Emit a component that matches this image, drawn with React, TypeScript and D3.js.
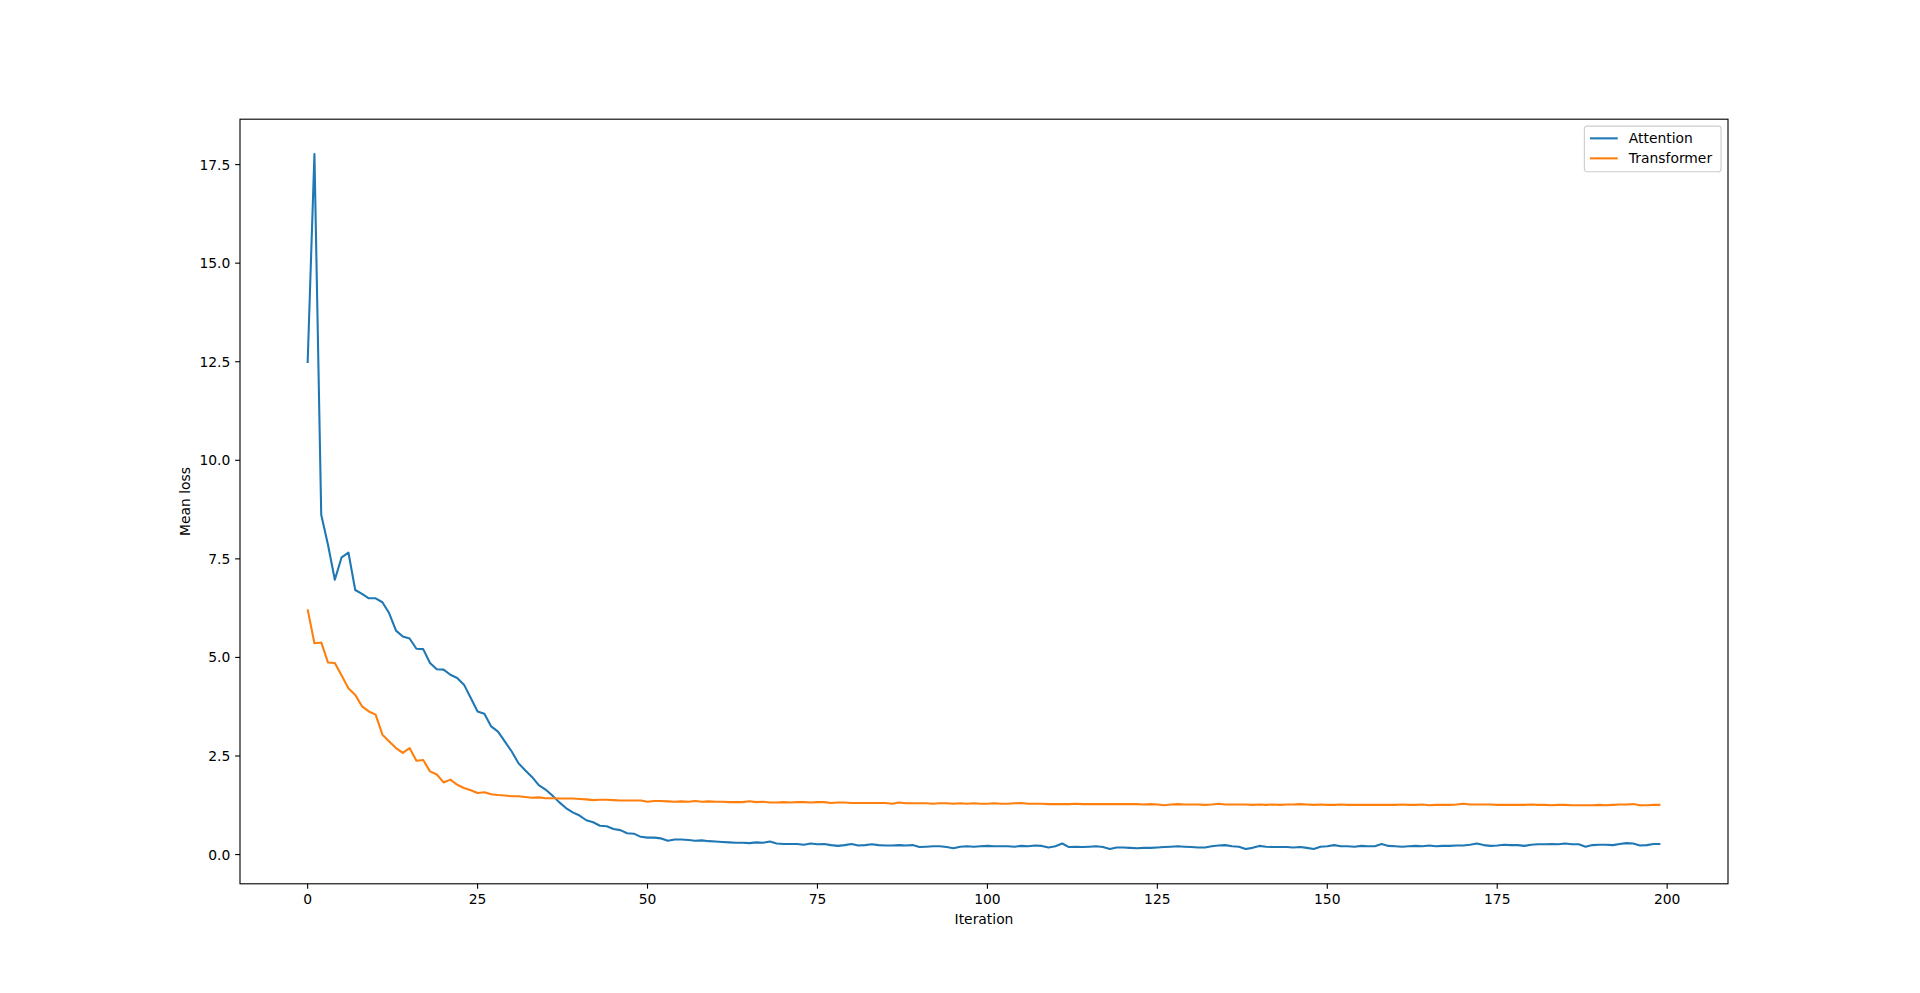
import * as d3 from 'd3';

// ── Data ──────────────────────────────────────────────────────────────────────
const ATTENTION_LOSS = [
  12.47, 17.77, 8.62, 7.85, 6.97, 7.54, 7.66, 6.71, 6.61, 6.50,
  6.50, 6.40, 6.12, 5.68, 5.53, 5.48, 5.22, 5.21, 4.86, 4.70,
  4.69, 4.56, 4.48, 4.31, 3.97, 3.63, 3.57, 3.25, 3.12, 2.87,
  2.62, 2.32, 2.14, 1.97, 1.76, 1.65, 1.50, 1.33, 1.18, 1.07,
  0.99, 0.87, 0.82, 0.73, 0.72, 0.65, 0.62, 0.54, 0.53, 0.45,
  0.43, 0.43, 0.41, 0.35, 0.38, 0.38, 0.37, 0.35, 0.36, 0.34,
  0.33, 0.32, 0.31, 0.30, 0.30, 0.29, 0.31, 0.30, 0.33, 0.28,
  0.27, 0.27, 0.27, 0.25, 0.28, 0.26, 0.27, 0.24, 0.22, 0.24,
  0.27, 0.23, 0.24, 0.26, 0.24, 0.23, 0.23, 0.24, 0.23, 0.24,
  0.19, 0.20, 0.21, 0.21, 0.19, 0.16, 0.20, 0.21, 0.20, 0.21,
  0.22, 0.21, 0.21, 0.21, 0.20, 0.22, 0.21, 0.23, 0.22, 0.18,
  0.21, 0.28, 0.19, 0.20, 0.19, 0.20, 0.21, 0.19, 0.14, 0.18,
  0.18, 0.17, 0.16, 0.17, 0.17, 0.18, 0.19, 0.20, 0.21, 0.20,
  0.19, 0.18, 0.18, 0.21, 0.23, 0.24, 0.21, 0.20, 0.14, 0.17,
  0.22, 0.20, 0.19, 0.19, 0.19, 0.18, 0.19, 0.17, 0.14, 0.20,
  0.21, 0.24, 0.21, 0.21, 0.20, 0.22, 0.21, 0.21, 0.27, 0.22,
  0.21, 0.20, 0.21, 0.22, 0.21, 0.23, 0.21, 0.22, 0.22, 0.23,
  0.23, 0.25, 0.28, 0.24, 0.22, 0.23, 0.25, 0.24, 0.24, 0.22,
  0.25, 0.26, 0.26, 0.27, 0.26, 0.28, 0.26, 0.26, 0.20, 0.24,
  0.25, 0.25, 0.24, 0.27, 0.29, 0.28, 0.23, 0.24, 0.27, 0.27,
];

const TRANSFORMER_LOSS = [
  6.22, 5.36, 5.38, 4.87, 4.86, 4.54, 4.22, 4.05, 3.76, 3.63,
  3.55, 3.04, 2.87, 2.70, 2.58, 2.70, 2.38, 2.40, 2.11, 2.03,
  1.83, 1.90, 1.77, 1.69, 1.63, 1.56, 1.58, 1.53, 1.51, 1.50,
  1.48, 1.48, 1.46, 1.44, 1.45, 1.43, 1.43, 1.42, 1.42, 1.42,
  1.41, 1.40, 1.38, 1.39, 1.39, 1.38, 1.37, 1.37, 1.37, 1.37,
  1.34, 1.36, 1.36, 1.35, 1.34, 1.35, 1.34, 1.36, 1.34, 1.35,
  1.34, 1.34, 1.33, 1.33, 1.33, 1.35, 1.33, 1.34, 1.32, 1.32,
  1.33, 1.32, 1.33, 1.33, 1.32, 1.33, 1.33, 1.31, 1.32, 1.32,
  1.31, 1.31, 1.31, 1.31, 1.31, 1.31, 1.29, 1.32, 1.30, 1.30,
  1.30, 1.30, 1.29, 1.30, 1.30, 1.29, 1.30, 1.29, 1.30, 1.29,
  1.29, 1.30, 1.29, 1.29, 1.30, 1.31, 1.29, 1.29, 1.29, 1.28,
  1.28, 1.28, 1.28, 1.29, 1.28, 1.28, 1.28, 1.28, 1.28, 1.28,
  1.28, 1.28, 1.28, 1.27, 1.28, 1.27, 1.25, 1.27, 1.28, 1.27,
  1.27, 1.27, 1.26, 1.27, 1.29, 1.27, 1.27, 1.27, 1.27, 1.26,
  1.27, 1.26, 1.27, 1.26, 1.27, 1.27, 1.28, 1.27, 1.26, 1.27,
  1.26, 1.26, 1.27, 1.26, 1.26, 1.26, 1.26, 1.26, 1.26, 1.26,
  1.26, 1.27, 1.26, 1.26, 1.27, 1.25, 1.26, 1.26, 1.26, 1.27,
  1.29, 1.27, 1.27, 1.27, 1.27, 1.26, 1.26, 1.26, 1.26, 1.26,
  1.27, 1.26, 1.26, 1.25, 1.26, 1.26, 1.25, 1.25, 1.25, 1.25,
  1.26, 1.25, 1.26, 1.27, 1.27, 1.28, 1.25, 1.25, 1.26, 1.26,
];

const SERIES_NAMES = ['Attention', 'Transformer'];
const X_TICKS = [0, 25, 50, 75, 100, 125, 150, 175, 200];
const Y_TICKS = [0, 2.5, 5, 7.5, 10, 12.5, 15, 17.5];

// ── Layout (matplotlib default subplot params at 1920x993) ────────────────────
const W = 1920;
const H = 993;
const LEFT = 240;
const RIGHT = 1728;
const TOP = 119.2;
const BOTTOM = 883.8;

const FS = 13.89;
const FONT = '"DejaVu Sans", sans-serif';
const COLORS = ['#1f77b4', '#ff7f0e'];
const TICK = 4.86;

export default function App() {
  const series = [ATTENTION_LOSS, TRANSFORMER_LOSS];
  const n = ATTENTION_LOSS.length;

  const xPad = (n - 1) * 0.05;
  const xScale = d3.scaleLinear().domain([-xPad, n - 1 + xPad]).range([LEFT, RIGHT]);

  const all = series.flat();
  const [lo, hi] = d3.extent(all) as [number, number];
  const yPad = (hi - lo) * 0.05;
  const yScale = d3.scaleLinear().domain([lo - yPad, hi + yPad]).range([BOTTOM, TOP]);

  const line = d3.line<number>()
    .x((_, i) => xScale(i))
    .y(d => yScale(d));

  const legendX = RIGHT - 6.95 - 136.7;
  const legendY = TOP + 6.95;

  return (
    <svg
      width={W}
      height={H}
      viewBox={`0 0 ${W} ${H}`}
      style={{ position: 'absolute', left: 0, top: 0, background: '#fff' }}
      fontFamily={FONT}
    >
      <rect x={0} y={0} width={W} height={H} fill="#fff" />

      {/* Lines */}
      {series.map((s, k) => (
        <path
          key={k}
          d={line(s) ?? ''}
          fill="none"
          stroke={COLORS[k]}
          strokeWidth={2.08}
          strokeLinejoin="round"
          strokeLinecap="butt"
        />
      ))}

      {/* Frame */}
      <rect
        x={LEFT} y={TOP}
        width={RIGHT - LEFT} height={BOTTOM - TOP}
        fill="none" stroke="#000" strokeWidth={1.11}
      />

      {/* X ticks */}
      {X_TICKS.map(t => (
        <g key={t} transform={`translate(${xScale(t)},${BOTTOM})`}>
          <line y1={0} y2={TICK} stroke="#000" strokeWidth={1.11} />
          <text y={TICK + 4.86 + 10.6} textAnchor="middle" fontSize={FS} fill="#000">
            {t}
          </text>
        </g>
      ))}

      {/* Y ticks */}
      {Y_TICKS.map(t => (
        <g key={t} transform={`translate(${LEFT},${yScale(t)})`}>
          <line x1={0} x2={-TICK} stroke="#000" strokeWidth={1.11} />
          <text x={-TICK - 4.86} y={5} textAnchor="end" fontSize={FS} fill="#000">
            {t.toFixed(1)}
          </text>
        </g>
      ))}

      {/* Axis labels */}
      <text x={(LEFT + RIGHT) / 2} y={924} textAnchor="middle" fontSize={FS} fill="#000">
        Iteration
      </text>
      <text
        transform={`translate(190,${(TOP + BOTTOM) / 2}) rotate(-90)`}
        textAnchor="middle" fontSize={FS} fill="#000"
      >
        Mean loss
      </text>

      {/* Legend */}
      <g transform={`translate(${legendX},${legendY})`}>
        <rect
          x={0} y={0} width={136.7} height={45.6} rx={2.78}
          fill="#fff" fillOpacity={0.8} stroke="#cccccc" strokeWidth={1.11}
        />
        {SERIES_NAMES.map((name, i) => (
          <g key={name} transform={`translate(0,${12.2 + i * 20})`}>
            <line x1={5.56} x2={33.4} stroke={COLORS[i]} strokeWidth={2.08} />
            <text x={44.5} y={5} fontSize={FS} fill="#000">{name}</text>
          </g>
        ))}
      </g>
    </svg>
  );
}
